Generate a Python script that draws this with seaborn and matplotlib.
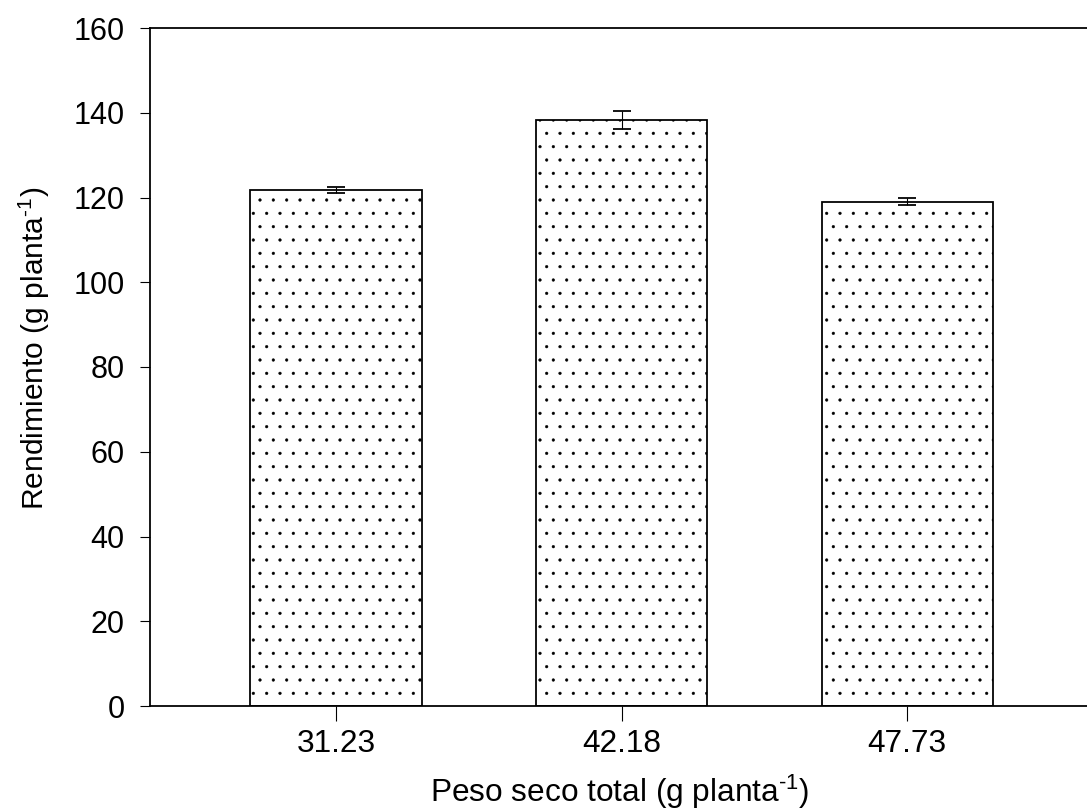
import matplotlib
matplotlib.use("Agg")
import matplotlib.pyplot as plt
import seaborn as sns
import pandas as pd

categories = ["31.23", "42.18", "47.73"]
values = [121.7, 138.3, 119.0]
errors = [0.7, 2.1, 0.8]
yticks = [0, 20, 40, 60, 80, 100, 120, 140, 160]

sns.set_style("white")
plt.rcParams['font.family'] = ['Liberation Sans', 'DejaVu Sans']
plt.rcParams['mathtext.fontset'] = 'custom'
plt.rcParams['mathtext.rm'] = 'Liberation Sans'
plt.rcParams['mathtext.it'] = 'Liberation Sans'
plt.rcParams['hatch.linewidth'] = 0.4
plt.rcParams['text.color'] = 'black'
plt.rcParams['axes.labelcolor'] = 'black'
plt.rcParams['xtick.color'] = 'black'
plt.rcParams['ytick.color'] = 'black'

DPI = 80
fig = plt.figure(figsize=(1087 / DPI, 812 / DPI), dpi=DPI)
ax = fig.add_axes([150 / 1087, 106 / 812, 940 / 1087, (706 - 28) / 812])

df = pd.DataFrame({"x": categories, "y": values})
sns.barplot(data=df, x="x", y="y", ax=ax, color="white", edgecolor="black",
            linewidth=1.6, width=0.60, errorbar=None, saturation=1)
for p in ax.patches:
    p.set_hatch(".")
    p.set_facecolor("white")
    p.set_edgecolor("black")

ax.errorbar(categories, values, yerr=errors, fmt="none", ecolor="black",
            elinewidth=1.0, capsize=8, capthick=1.6)

ax.set_xlim(-0.651, 2.64)
ax.set_ylim(0, 160)
ax.set_yticks(yticks)

ax.tick_params(axis="y", direction="out", length=9, width=1.0, labelsize=27.5, pad=14, left=True)
ax.tick_params(axis="x", direction="out", length=13.5, width=1.0, labelsize=28.5, pad=7, bottom=True)

ax.set_xlabel("Peso seco total (g planta$^{\\mathregular{\u20101}}$)", fontsize=28.5)
ax.set_ylabel("Rendimiento (g planta$^{\\mathregular{\u20101}}$)", fontsize=27)
ax.xaxis.set_label_coords(0.5, -0.099)
ax.yaxis.set_label_coords(-0.104, 0.528)

for s in ["left", "bottom", "top"]:
    ax.spines[s].set_visible(True)
    ax.spines[s].set_color("black")
    ax.spines[s].set_linewidth(1.6)
ax.spines["right"].set_visible(False)

fig.savefig("out.png", dpi=DPI, facecolor="white")
